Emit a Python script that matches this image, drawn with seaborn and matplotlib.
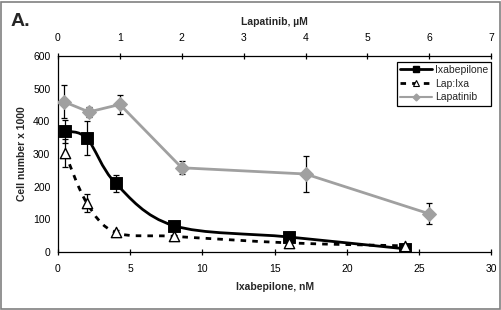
import numpy as np
import pandas as pd
import matplotlib
matplotlib.use("Agg")
import matplotlib.pyplot as plt
import seaborn as sns
from matplotlib.path import Path
from matplotlib.patches import PathPatch, Rectangle
from matplotlib.lines import Line2D

# Datos
ixa_nM = [0.5, 2, 4, 8, 16, 24]
ixa_cells = [370, 348, 210, 81, 46, 10]
ixa_err = [35, 52, 25, 8, 6, 4]

lapixa_cells = [302, 150, 60, 48, 28, 19]
lapixa_err = [43, 27, 6, 5, 5, 5]

lap_uM = [0.1, 0.5, 1, 2, 4, 6]
lap_cells = [460, 429, 452, 258, 239, 117]
lap_err = [50, 15, 30, 20, 55, 32]

gris = "#a0a0a0"


def curva_suave(x, y):
    # Suavizado tipo Excel (Catmull-Rom convertido a Bezier)
    pts = np.column_stack([x, y]).astype(float)
    ext = np.vstack([pts[0], pts, pts[-1]])
    verts = [tuple(pts[0])]
    codes = [Path.MOVETO]
    for i in range(1, len(ext) - 2):
        p0, p1, p2, p3 = ext[i - 1], ext[i], ext[i + 1], ext[i + 2]
        c1 = p1 + (p2 - p0) / 6.0
        c2 = p2 - (p3 - p1) / 6.0
        verts += [tuple(c1), tuple(c2), tuple(p2)]
        codes += [Path.CURVE4] * 3
    return Path(verts, codes)


sns.set_theme(style="white")
plt.rcParams["font.family"] = ["Liberation Sans", "DejaVu Sans"]

fig = plt.figure(figsize=(5.02, 3.10), dpi=100)
ax = fig.add_axes([0.1155, 0.187, 0.863, 0.632])

df_ixa = pd.DataFrame({"x": ixa_nM, "y": ixa_cells})
df_combo = pd.DataFrame({"x": ixa_nM, "y": lapixa_cells})
df_lap = pd.DataFrame({"x": lap_uM, "y": lap_cells})

# Ixabepilone
ax.errorbar(ixa_nM, ixa_cells, yerr=ixa_err, fmt="none", ecolor="black",
            elinewidth=0.9, capsize=2.5, capthick=0.9, zorder=2)
ax.add_patch(PathPatch(curva_suave(ixa_nM, ixa_cells), facecolor="none",
                       edgecolor="black", lw=2.0, zorder=3))
sns.scatterplot(data=df_ixa, x="x", y="y", marker="s", s=65, color="black",
                edgecolor="black", ax=ax, zorder=4, legend=False)

# Lap:Ixa
ax.errorbar(ixa_nM, lapixa_cells, yerr=lapixa_err, fmt="none", ecolor="black",
            elinewidth=0.9, capsize=2.5, capthick=0.9, zorder=2)
ax.add_patch(PathPatch(curva_suave(ixa_nM, lapixa_cells), facecolor="none",
                       edgecolor="black", lw=2.0, linestyle=(0, (2, 2.2)), zorder=3))
sns.scatterplot(data=df_combo, x="x", y="y", marker="^", s=55, color="white",
                edgecolor="black", linewidth=1.0, ax=ax, zorder=4, legend=False)

ax.set_xlim(0, 30)
ax.set_ylim(0, 600)
ax.set_xticks(range(0, 31, 5))
ax.set_yticks(range(0, 601, 100))
ax.set_xlabel("Ixabepilone, nM", fontsize=7.5, fontweight="bold", labelpad=6)
ax.set_ylabel("Cell number x 1000", fontsize=7.5, fontweight="bold", labelpad=4)

# Lapatinib en eje superior
ax2 = ax.twiny()
ax2.errorbar(lap_uM, lap_cells, yerr=lap_err, fmt="none", ecolor="black",
             elinewidth=0.9, capsize=2.5, capthick=0.9, zorder=2)
sns.lineplot(data=df_lap, x="x", y="y", color=gris, lw=2.0, marker="D",
             markersize=7, markeredgecolor=gris, ax=ax2, zorder=3)
ax2.set_xlim(0, 7)
ax2.set_xticks(range(0, 8))
ax2.set_xlabel("Lapatinib, \u00b5M", fontsize=7.5, fontweight="bold", labelpad=6)
ax2.set_ylabel("")

for a in (ax, ax2):
    for lado in ("left", "bottom", "top"):
        a.spines[lado].set_visible(True)
        a.spines[lado].set_color("black")
        a.spines[lado].set_linewidth(0.9)
    a.spines["right"].set_visible(False)
    a.tick_params(direction="inout", length=5, width=0.9, colors="black",
                  labelsize=7.5, pad=3)
ax2.spines["bottom"].set_visible(False)
ax2.spines["left"].set_visible(False)
ax.spines["top"].set_visible(False)
ax.tick_params(axis="x", top=False, pad=6)
ax2.tick_params(axis="x", bottom=False, top=True, pad=7)

handles = [
    Line2D([], [], color="black", lw=2.0, marker="s", markersize=5),
    Line2D([], [], color="black", lw=2.0, linestyle=(0, (2, 2.2)), marker="^",
           markersize=5, markerfacecolor="white", markeredgewidth=0.8),
    Line2D([], [], color=gris, lw=1.5, marker="D", markersize=3.5),
]
leg = ax2.legend(handles, ["Ixabepilone", "Lap:Ixa", "Lapatinib"],
                 loc="upper right", bbox_to_anchor=(1.0, 0.97), fontsize=7.5,
                 frameon=True, fancybox=False, framealpha=1, edgecolor="black",
                 borderaxespad=0, handlelength=3.0, handletextpad=0.3,
                 labelspacing=0.35, borderpad=0.3)
leg.get_frame().set_linewidth(0.9)

fig.text(0.02, 0.93, "A.", fontsize=14, fontweight="bold", ha="left", va="center")
fig.patches.append(Rectangle((0.002, 0.003), 0.994, 0.992, transform=fig.transFigure,
                             fill=False, edgecolor="#808080", lw=1.2))

fig.savefig("out.png", dpi=100)
